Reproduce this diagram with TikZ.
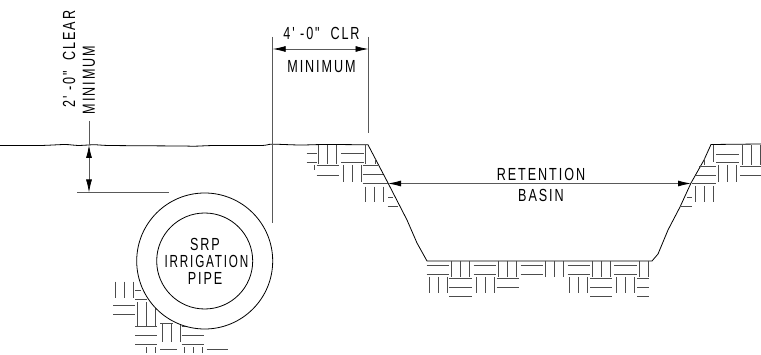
\documentclass[tikz,border=0pt]{standalone}
\usepackage{fontspec}
\newfontfamily\cadfont[FakeStretch=0.72,LetterSpace=11]{Liberation Sans}
\usetikzlibrary{arrows.meta}
\tikzset{
  hatch/.style={black!70,line width=.8pt},
  dimline/.style={black!65,line width=.8pt},
  ground/.style={black,line width=.8pt},
  label/.style={inner sep=0pt,font=\cadfont\fontsize{17.5}{17.5}\selectfont,text=black},
  dimarrow/.style={dimline,{Latex[length=13pt,width=6pt,black]}-{Latex[length=13pt,width=6pt,black]}}
}
% three upright strokes, 9 apart
\newcommand{\vbars}[3]{\foreach \dx in {0,9,18} \draw[hatch] (#1+\dx,#2) -- (#1+\dx,#3);}
% level strokes between two x, at a list of y
\newcommand{\hbars}[3]{\foreach \yy in {#3} \draw[hatch] (#1,\yy) -- (#2,\yy);}
\begin{document}
\begin{tikzpicture}[>=latex,x=1pt,y=-1pt]
  \useasboundingbox (0,0) rectangle (761,355);
  % hatching at the pipe
  \vbars{115.3}{281.7}{297.7}
  \hbars{135}{141}{290}
  \hbars{135}{147}{299.3}
  \hbars{113.3}{135}{305,314}
  \vbars{137.3}{302.3}{326}
  \hbars{160}{172.7}{323.3}
  \hbars{135}{157.3}{326.7,335.7,344.3}
  \vbars{162}{323.3}{341.7}
  \hbars{181.7}{204.3}{326.7,335.7,344.3}
  \foreach \xx in {146.3,155.3,184.3,193.3,202.3}
    \draw[hatch] (\xx,347.3) -- (\xx,353.3);
  \hbars{160}{177.3}{349.3}
  \hbars{206.7}{228.3}{349.3}
  % pipe
  \draw[ground,fill=white] (204.7,261) coordinate(Pc) circle (68);
  \draw[ground] (Pc) circle (48);
  \node[label] (srp) at (205,244) {SRP};
  \node[label,xscale=.93] (irrigation) at (206.5,261) {IRRIGATION};
  \node[label] (pipe) at (205,278) {PIPE};
  % ground and basin
  \draw[ground] plot[smooth,tension=.5] coordinates {(0,145.5) (40,145.5) (65,144.5) (78,145.5) (95,144.7) (110,145.5) (180,146) (195,146.2) (215,145.5) (261,145.5) (272,144.2) (300,145) (325,144.5) (368,144.8)}
    -- (388,183) -- (407,220) -- (417,243) -- (427,261)
    -- (652,261) -- (658,254) -- (668,230)
    -- (680,207) -- (691,183) -- (704,160) -- (711,144.5) -- (761,144);
  % hatching, left bank
  \hbars{306.7}{316.7}{153.3,162.7}
  \vbars{318.3}{145}{164}
  \hbars{341}{364}{153,162.7}
  \draw[hatch] (365.3,145) -- (365.3,164) (375,159) -- (375,164) (314,165) -- (314,170);
  \hbars{316.7}{339}{165.7,175.7}
  \vbars{343.3}{165}{182}
  \hbars{362.7}{378}{165.7}
  \hbars{362.7}{383}{174}
  \hbars{362.7}{388}{183.3}
  \vbars{365.7}{186.7}{201.7}
  \hbars{388}{393}{197.3}
  \hbars{387.7}{398}{206}
  % hatching, floor
  \foreach \xx in {426.7,473.7,520.7,567.7,614.4} {
    \hbars{\xx}{\xx+22.6}{265.3,274.3}
  }
  \foreach \xx in {451.7,498.7,545.3,592.3} {
    \vbars{\xx}{261}{277}
  }
  \draw[hatch] (639,261) -- (639,277) (648,261) -- (648,277);
  \foreach \xx in {429.3,476.3,569.7,616.7} {
    \vbars{\xx}{277}{293}
  }
  \hbars{449.3}{472}{278.3,287,296}
  \hbars{496.7}{519}{278.3,287}
  \hbars{590}{612.3}{278.3,287,296}
  \hbars{637}{649.3}{278.3,287,296}
  % hatching, right bank
  \draw[hatch] (713.3,145) -- (713.3,162) (704.3,158) -- (704.3,165);
  \hbars{716}{738.7}{154,162.3}
  \vbars{742.3}{145}{165}
  \hbars{699.3}{716}{166.7}
  \hbars{696}{716}{175}
  \hbars{691.7}{716}{183.3}
  \vbars{718.3}{165}{182}
  \hbars{740}{760.5}{166.7,175}
  \vbars{695.7}{186}{201.7}
  \hbars{686.7}{691.7}{197.7}
  \hbars{680}{691.7}{206.3}
  % dimensions
  \coordinate (Ctop) at (89,121);
  \coordinate (Cg) at (89,145);
  \coordinate (Cb) at (89,192.5);
  \coordinate (Cl) at (77,192.5);
  \coordinate (Cr) at (169,192.5);
  \draw[dimline] (Ctop) -- (Cg);
  \draw[dimarrow] (Cg) -- (Cb);
  \draw[dimline] (Cl) -- (Cr);
  \node[label,rotate=90] (clear) at (69,59) {2' -0"\ \ CLEAR};
  \node[label,rotate=90] (minv) at (89,80) {MINIMUM};
  \coordinate (Wa) at (272.7,37);
  \coordinate (Wb) at (272.7,223);
  \coordinate (Wc) at (368.5,37);
  \coordinate (Wd) at (368.5,133);
  \coordinate (We) at (272.7,49);
  \coordinate (Wf) at (368.5,49);
  \draw[dimline] (Wa) -- (Wb);
  \draw[dimline] (Wc) -- (Wd);
  \draw[dimarrow] (We) -- (Wf);
  \node[label] (clr) at (321.5,33) {4' -0"\ \ CLR};
  \node[label] (minh) at (321.5,67) {MINIMUM};
  \coordinate (Ba) at (388,183.5);
  \coordinate (Bb) at (691,183.5);
  \draw[dimarrow] (Ba) -- (Bb);
  \node[label] (retention) at (541,174) {RETENTION};
  \node[label] (basin) at (541,195) {BASIN};
\end{tikzpicture}
\end{document}
